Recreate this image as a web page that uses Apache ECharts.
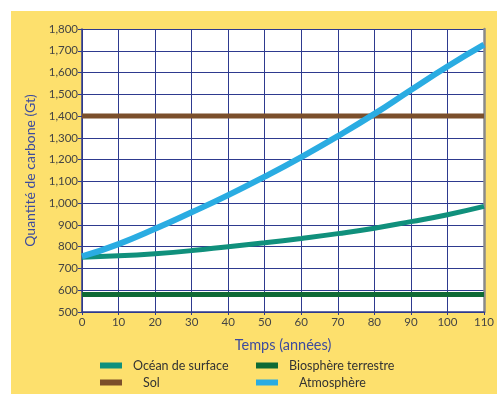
<!DOCTYPE html>
<html>
<head>
<meta charset="utf-8">
<script src="https://cdn.jsdelivr.net/npm/echarts@6/dist/echarts.min.js"></script>
<style>
html,body{margin:0;padding:0;background:#fff;width:497px;height:396px;overflow:hidden;}
#c{position:absolute;left:11px;top:11px;width:486px;height:383px;}
</style>
</head>
<body>
<div id="c"></div>
<script>
const years = [0,10,20,30,40,50,60,70,80,90,100,110];
const oceanSurface = [752,758,768,782,800,818,838,860,885,915,947,985];
const sol = [1400,1400,1400,1400,1400,1400,1400,1400,1400,1400,1400,1400];
const biosphere = [580,580,580,580,580,580,580,580,580,580,580,580];
const atmosphere = [755,812,882,958,1037,1122,1212,1308,1410,1520,1628,1728];
const seriesNames = ['Océan de surface','Sol','Biosphère terrestre','Atmosphère'];
const xTitle = 'Temps (années)';
const yTitle = 'Quantité de carbone (Gt)';

const colors = {
  'Océan de surface':'#10907c',
  'Sol':'#7b4f2b',
  'Biosphère terrestre':'#0e6a35',
  'Atmosphère':'#2aace2'
};
const navy = '#2e3a8f';
const font = 'Lato';

function pairs(arr){ return years.map((y,i)=>[y,arr[i]]); }

const chart = echarts.init(document.getElementById('c'));
const legendPos = {
  'Océan de surface':{left:84, top:343, pad:6},
  'Sol':{left:84, top:360, pad:16},
  'Biosphère terrestre':{left:240, top:343, pad:6},
  'Atmosphère':{left:240, top:360, pad:16}
};
const legends = seriesNames.map(n=>({
  data:[n], left:legendPos[n].left, top:legendPos[n].top,
  itemWidth:22, itemHeight:6, icon:'rect', selectedMode:false,
  formatter:'{a|{name}}',
  textStyle:{color:'#333', fontFamily:font, fontSize:12.5,
    rich:{a:{padding:[0,0,0,legendPos[n].pad], fontFamily:font, fontSize:12.5, color:'#333'}}}
}));

chart.setOption({
  backgroundColor:'#fde06d',
  animation:false,
  grid:{left:71, top:18, right:9, bottom:82, show:true, backgroundColor:'#ffffff', borderWidth:0},
  legend:legends,
  xAxis:{
    type:'value', min:0, max:110, interval:10,
    name:xTitle, nameLocation:'middle', nameGap:26,
    nameTextStyle:{color:'#3d4b9e', fontFamily:font, fontSize:14.5},
    axisLine:{show:true, lineStyle:{color:navy, width:1.5}},
    axisTick:{show:true, length:3, lineStyle:{color:navy}},
    axisLabel:{color:'#444', fontFamily:font, fontSize:11.5, margin:4},
    splitLine:{show:true, lineStyle:{color:navy, width:1}}
  },
  yAxis:[{
    type:'value', min:500, max:1800, interval:100,
    name:yTitle, nameLocation:'middle', nameGap:40,
    nameTextStyle:{color:'#3d4b9e', fontFamily:font, fontSize:14},
    axisLine:{show:true, lineStyle:{color:navy, width:1.5}},
    axisTick:{show:true, length:4, lineStyle:{color:navy}},
    axisLabel:{color:'#444', fontFamily:font, fontSize:11.5, margin:4,
      formatter:v=>v.toLocaleString('en-US')},
    splitLine:{show:true, lineStyle:{color:navy, width:1}}
  },{
    type:'value', min:500, max:1800, interval:100, position:'right',
    axisLine:{show:true, lineStyle:{color:'#8a8a8a', width:2.5}},
    axisTick:{show:false}, axisLabel:{show:false}, splitLine:{show:false}
  }],
  series:[
    {name:seriesNames[1], type:'line', data:pairs(sol), showSymbol:false, lineStyle:{color:colors['Sol'], width:5}, itemStyle:{color:colors['Sol']}, z:3},
    {name:seriesNames[2], type:'line', data:pairs(biosphere), showSymbol:false, lineStyle:{color:colors['Biosphère terrestre'], width:5}, itemStyle:{color:colors['Biosphère terrestre']}, z:3},
    {name:seriesNames[0], type:'line', data:pairs(oceanSurface), smooth:true, showSymbol:false, lineStyle:{color:colors['Océan de surface'], width:5}, itemStyle:{color:colors['Océan de surface']}, z:3},
    {name:seriesNames[3], type:'line', data:pairs(atmosphere), smooth:true, showSymbol:false, lineStyle:{color:colors['Atmosphère'], width:6}, itemStyle:{color:colors['Atmosphère']}, z:4}
  ]
});
</script>
</body>
</html>
